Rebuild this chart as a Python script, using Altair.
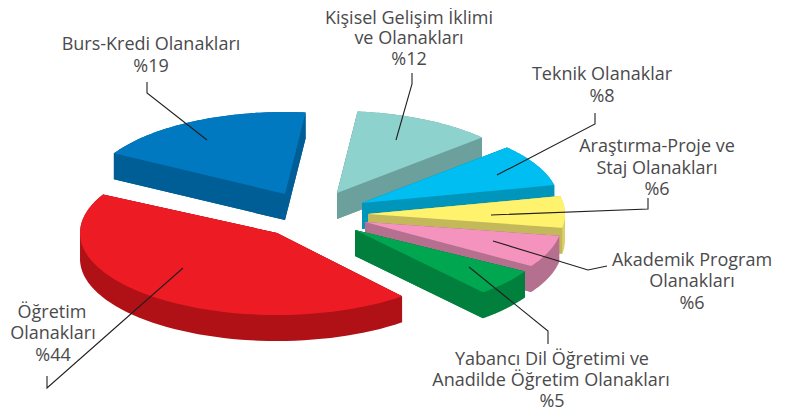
import math
import altair as alt
import pandas as pd

# Slices clockwise from the green one; angular extents (degrees)
names = ["Yabancı Dil", "Öğretim", "Burs-Kredi", "Kişisel Gelişim", "Teknik", "Araştırma-Proje", "Akademik Program"]
slice_start = [30.4, 50.6, 209.7, 276.0, 317.4, 347.4, 369.7]
slice_end = [49.5, 208.0, 276.0, 317.4, 347.4, 369.7, 392.5]

# Exploded-pie geometry
tops = ["#00A650", "#ED1C24", "#0079C1", "#8ED2CE", "#00BDF2", "#FFF36D", "#F493BE"]
sides = ["#007F3D", "#B01116", "#005E97", "#6BA09D", "#0095BA", "#C4B95A", "#B5708F"]
rims = ["#007F3D", "#B01116", "#005E97", "#6BA09D", "#0095BA", "#DCD168", "#B5708F"]
apex_x = [355, 277, 285, 337, 362, 368, 365]
apex_y = [230, 233, 194, 193, 203, 214, 222]
draw_order = [3, 4, 5, 6, 0, 2, 1]
RX, RY, DEPTH = 197, 82, 26

label_lines = [
    "Burs-Kredi Olanakları", "%19",
    "Kişisel Gelişim İklimi", "ve Olanakları", "%12",
    "Teknik Olanaklar", "%8",
    "Araştırma-Proje ve", "Staj Olanakları", "%6",
    "Akademik Program", "Olanakları", "%6",
    "Yabancı Dil Öğretimi ve", "Anadilde Öğretim Olanakları", "%5",
    "Öğretim", "Olanakları", "%44",
]
label_x = [151, 151, 409, 409, 409, 602, 602, 657, 657, 657, 692, 692, 692, 552, 551, 552, 52, 53, 53]
label_y = [50, 72, 24, 44, 65, 80, 102, 152, 174, 195, 266, 287, 309, 365, 386, 407, 318, 339, 361]

leaders = [
    ("burs", [(147, 82), (147, 93), (207, 140)]),
    ("kisisel", [(412, 73), (412, 84), (396, 140)]),
    ("teknik", [(595, 113), (595, 124), (497, 175)]),
    ("arastirma", [(648, 198), (648, 209), (491, 215)]),
    ("akademik", [(607, 266), (588, 270), (493, 241)]),
    ("yabanci", [(548, 344), (548, 331), (469, 267)]),
    ("ogretim", [(47, 376), (47, 388), (183, 268)]),
]


def hull(points):
    pts = sorted(set(points))
    def half(seq):
        out = []
        for p in seq:
            while len(out) > 1 and (out[-1][0]-out[-2][0])*(p[1]-out[-2][1]) - (out[-1][1]-out[-2][1])*(p[0]-out[-2][0]) <= 0:
                out.pop()
            out.append(p)
        return out[:-1]
    return half(pts) + half(pts[::-1])


rows = []
face = 0


def add(pts, col):
    global face
    face += 1
    for n, (x, y) in enumerate(pts + pts[:1]):
        rows.append({"face": f"{face:02d}", "n": n, "x": x, "y": y, "col": col})


for i in draw_order:
    apex = (apex_x[i], apex_y[i])
    arc = []
    for k in range(61):
        a = math.radians(slice_start[i] + (slice_end[i] - slice_start[i]) * k / 60)
        arc.append((apex[0] + RX * math.cos(a), apex[1] + RY * math.sin(a)))
    outline = [apex] + arc
    add(hull(outline + [(x, y + DEPTH) for x, y in outline]), rims[i])
    for corner in (arc[0], arc[-1]):
        add([apex, corner, (corner[0], corner[1] + DEPTH), (apex[0], apex[1] + DEPTH)], sides[i])
    add(outline, tops[i])
faces = pd.DataFrame(rows)

X = alt.X("x:Q", axis=None, scale=alt.Scale(domain=[8, 781], nice=False, zero=False))
Y = alt.Y("y:Q", axis=None, scale=alt.Scale(domain=[8, 414], nice=False, zero=False, reverse=True))

pie = alt.Chart(faces).mark_line(filled=True, strokeWidth=0, interpolate="linear-closed").encode(
    x=X, y=Y, detail="face:N", order="n:Q",
    color=alt.Color("col:N", scale=None, legend=None),
)

lead_df = pd.DataFrame([
    {"id": k, "n": n, "x": p[0], "y": p[1]} for k, pts in leaders for n, p in enumerate(pts)
])
lines = alt.Chart(lead_df).mark_line(color="#231F20", strokeWidth=1.1).encode(
    x=X, y=Y, detail="id:N", order="n:Q"
)

text_df = pd.DataFrame({"t": label_lines, "x": label_x, "y": label_y})
labels = alt.Chart(text_df).mark_text(
    font="Open Sans", fontSize=18, fontWeight=400, color="#4A4A4C", align="center", baseline="alphabetic"
).encode(x=X, y=Y, text="t:N")

chart = (pie + lines + labels).properties(
    width=773, height=406, padding=0, autosize="none"
).configure_view(stroke=None)

chart.save("out.html", embed_options={"renderer": "svg", "actions": False})
